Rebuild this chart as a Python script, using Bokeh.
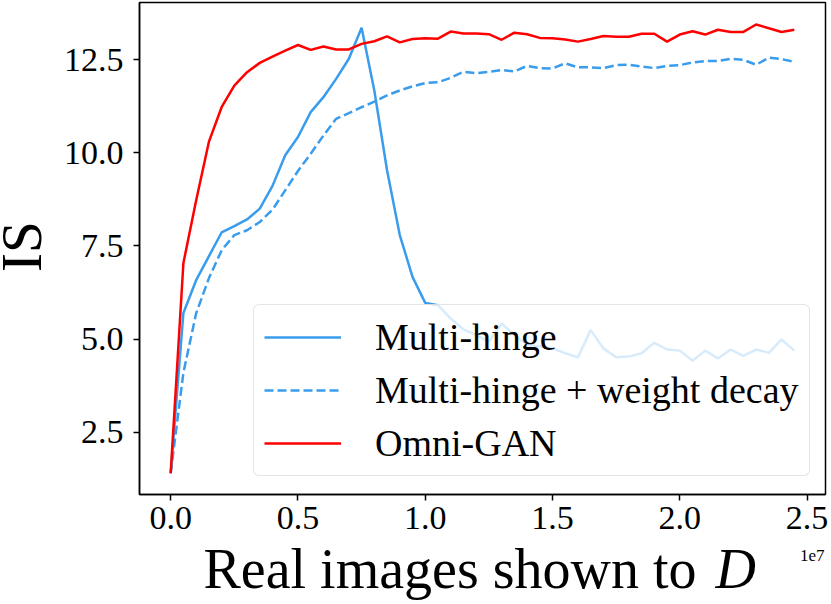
from bokeh.plotting import figure
from bokeh.layouts import column, row
from bokeh.models import Range1d, FixedTicker, Label, Legend, LegendItem
from bokeh.embed import file_html
from bokeh.resources import INLINE

# ---- data (x in units of 1e7 real images) ----
steps = [0.00, 0.05, 0.10, 0.15, 0.20, 0.25, 0.30, 0.35, 0.40, 0.45,
         0.50, 0.55, 0.60, 0.65, 0.70, 0.75, 0.80, 0.85, 0.90, 0.95,
         1.00, 1.05, 1.10, 1.15, 1.20, 1.25, 1.30, 1.35, 1.40, 1.45,
         1.50, 1.55, 1.60, 1.65, 1.70, 1.75, 1.80, 1.85, 1.90, 1.95,
         2.00, 2.05, 2.10, 2.15, 2.20, 2.25, 2.30, 2.35, 2.40, 2.45]

multi_hinge = [1.40, 5.70, 6.58, 7.22, 7.86, 8.03, 8.21, 8.50, 9.11, 9.93,
               10.42, 11.09, 11.49, 11.98, 12.52, 13.35, 11.67, 9.53, 7.79, 6.67,
               5.97, 5.91, 5.55, 5.26, 5.11, 4.93, 5.42, 5.11, 4.84, 4.81,
               4.75, 4.62, 4.51, 5.24, 4.75, 4.51, 4.53, 4.62, 4.90, 4.72,
               4.69, 4.42, 4.69, 4.48, 4.72, 4.55, 4.72, 4.63, 4.99, 4.69]

multi_hinge_wd = [1.40, 4.10, 5.69, 6.63, 7.38, 7.79, 7.92, 8.14, 8.47, 8.99,
                  9.51, 9.97, 10.46, 10.91, 11.06, 11.22, 11.37, 11.54, 11.67, 11.78,
                  11.87, 11.89, 12.01, 12.17, 12.13, 12.17, 12.22, 12.18, 12.33, 12.27,
                  12.26, 12.40, 12.29, 12.29, 12.27, 12.35, 12.36, 12.31, 12.27, 12.33,
                  12.35, 12.42, 12.46, 12.46, 12.52, 12.49, 12.36, 12.55, 12.51, 12.44]

omni_gan = [1.40, 7.04, 8.72, 10.29, 11.22, 11.80, 12.16, 12.41, 12.58, 12.74,
            12.89, 12.76, 12.85, 12.77, 12.77, 12.92, 12.99, 13.12, 12.96, 13.05,
            13.07, 13.06, 13.25, 13.20, 13.20, 13.18, 13.03, 13.22, 13.18, 13.08,
            13.07, 13.04, 12.98, 13.05, 13.13, 13.11, 13.11, 13.19, 13.19, 12.98,
            13.17, 13.26, 13.17, 13.30, 13.24, 13.24, 13.44, 13.34, 13.24, 13.30]

series_labels = ["Multi-hinge", "Multi-hinge + weight decay", "Omni-GAN"]
x_ticks = [0.0, 0.5, 1.0, 1.5, 2.0, 2.5]
x_tick_labels = ["0.0", "0.5", "1.0", "1.5", "2.0", "2.5"]
y_ticks = [2.5, 5.0, 7.5, 10.0, 12.5]
y_tick_labels = ["2.5", "5.0", "7.5", "10.0", "12.5"]
x_label_main = "Real images shown to"
x_label_var = "D"
y_label = "IS"
offset_text = "1e7"

BLUE = "#3a9cec"
RED = "#ff0000"
FONT = "Liberation Serif"

TOTAL_W = 830
STRIP_W = 50
MAIN_H = 546
BOTTOM_H = 58

# ---- main plot ----
p = figure(width=TOTAL_W - STRIP_W, height=MAIN_H, output_backend="svg",
           toolbar_location=None,
           x_range=Range1d(-0.1225, 2.5725), y_range=Range1d(0.83, 14.03),
           min_border_left=89, min_border_right=5, min_border_top=2,
           min_border_bottom=52)
p.grid.visible = False
p.background_fill_color = "white"
p.border_fill_color = "white"
p.outline_line_color = "black"
p.outline_line_width = 1.5

r1 = p.line(steps, multi_hinge, line_color=BLUE, line_width=2.5)
r2 = p.line(steps, multi_hinge_wd, line_color=BLUE, line_width=2.5, line_dash="9 4")
r3 = p.line(steps, omni_gan, line_color=RED, line_width=2.5)

p.xaxis.ticker = FixedTicker(ticks=x_ticks)
p.xaxis.major_label_overrides = {t: l for t, l in zip(x_ticks, x_tick_labels)}
p.yaxis.ticker = FixedTicker(ticks=y_ticks)
p.yaxis.major_label_overrides = {t: l for t, l in zip(y_ticks, y_tick_labels)}

for ax in (p.xaxis[0], p.yaxis[0]):
    ax.axis_line_color = "black"
    ax.axis_line_width = 1.5
    ax.major_tick_line_color = "black"
    ax.major_tick_line_width = 1.5
    ax.major_tick_out = 6
    ax.major_tick_in = 0
    ax.minor_tick_line_color = None
    ax.major_label_text_font = FONT
    ax.major_label_text_font_size = "34px"
    ax.major_label_text_color = "black"

p.xaxis.major_label_standoff = 6
p.yaxis.major_label_standoff = 10

legend = Legend(items=[LegendItem(label=series_labels[0], renderers=[r1]),
                       LegendItem(label=series_labels[1], renderers=[r2]),
                       LegendItem(label=series_labels[2], renderers=[r3])],
                location=(114, 18))
legend.label_text_font = FONT
legend.label_text_font_size = "38px"
legend.label_text_color = "black"
legend.glyph_width = 77
legend.glyph_height = 44
legend.label_height = 44
legend.label_standoff = 34
legend.spacing = 9
legend.padding = 10
legend.margin = 0
legend.border_line_color = "#cccccc"
legend.border_line_width = 1.5
legend.background_fill_color = "white"
legend.background_fill_alpha = 0.8
if "border_radius" in legend.properties():
    legend.border_radius = 6
p.add_layout(legend, "center")

# ---- left strip holding the y-axis title (reads bottom to top) ----
strip = figure(width=STRIP_W, height=MAIN_H, output_backend="svg",
               toolbar_location=None, x_axis_type=None, y_axis_type=None,
               x_range=Range1d(0, STRIP_W), y_range=Range1d(0, MAIN_H),
               min_border=0)
strip.grid.visible = False
strip.outline_line_color = None
strip.add_layout(Label(x=21, y=MAIN_H - 271, text=y_label, angle=1.5708,
                       text_font=FONT, text_font_size="57px", text_color="black",
                       text_align="center", text_baseline="middle"))

# ---- bottom strip holding the x-axis title and offset text ----
bottom = figure(width=TOTAL_W, height=BOTTOM_H, output_backend="svg",
                toolbar_location=None, x_axis_type=None, y_axis_type=None,
                x_range=Range1d(0, TOTAL_W), y_range=Range1d(0, BOTTOM_H),
                min_border=0)
bottom.grid.visible = False
bottom.outline_line_color = None
bottom.add_layout(Label(x=203, y=BOTTOM_H - 22, text=x_label_main,
                        text_font=FONT, text_font_size="56px", text_color="black",
                        text_align="left", text_baseline="alphabetic"))
bottom.add_layout(Label(x=715, y=BOTTOM_H - 22, text=x_label_var,
                        text_font=FONT, text_font_size="56px", text_font_style="italic",
                        text_color="black", text_align="left", text_baseline="alphabetic"))
bottom.add_layout(Label(x=824, y=BOTTOM_H - 9, text=offset_text,
                        text_font=FONT, text_font_size="17px", text_color="black",
                        text_align="right", text_baseline="alphabetic"))

layout = column(row(strip, p, spacing=0), bottom, spacing=0)
open("out.html", "w").write(file_html(layout, INLINE))
